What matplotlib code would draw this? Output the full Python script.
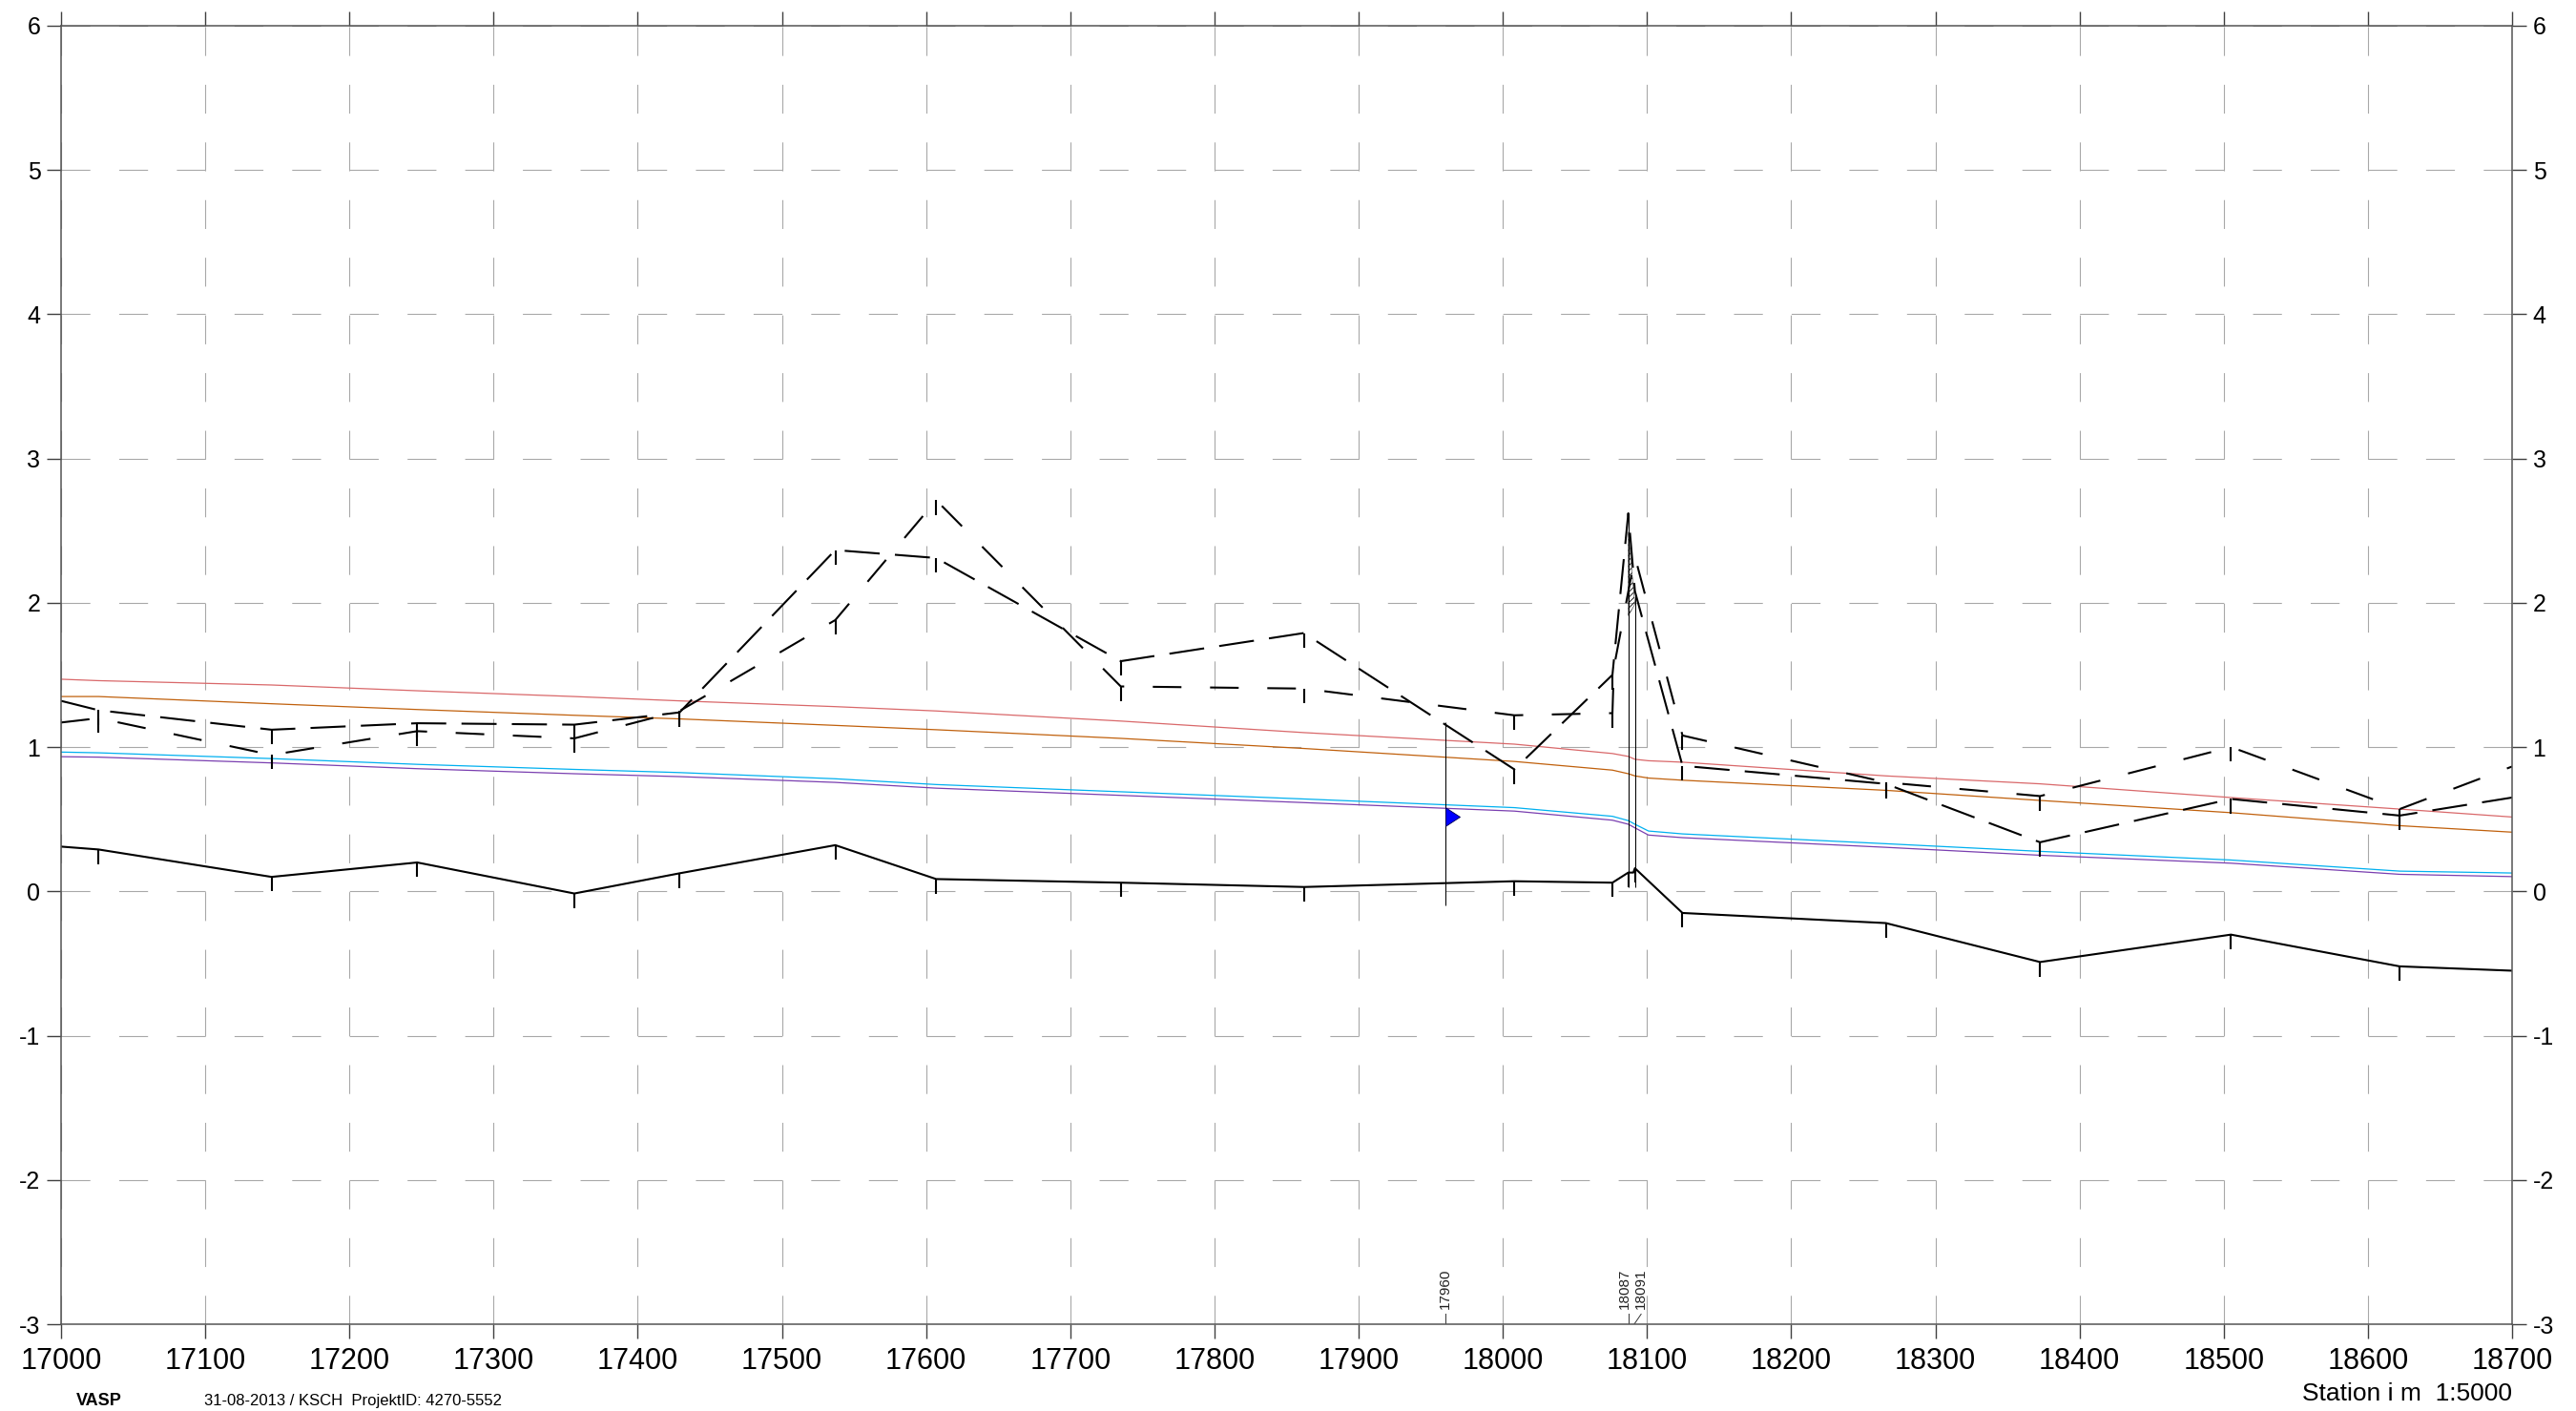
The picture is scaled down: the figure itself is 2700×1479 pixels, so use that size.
import numpy as np
import matplotlib
matplotlib.use("Agg")
import matplotlib.pyplot as plt
from matplotlib.path import Path

# cross sections (stations in m) where the profile lines get a small tick
sections = [17026, 17146, 17247, 17356, 17429, 17537, 17607, 17735, 17862,
            18008, 18076, 18124.6, 18265.6, 18372.6, 18505, 18622]
bridge = [18087, 18091.6]

# channel bottom
ground_x = [17000, 17026, 17146, 17247, 17356, 17429, 17537, 17607, 17735, 17862, 18008,
            18076, 18087, 18090.5, 18091.6, 18124.6, 18265.6, 18372.6, 18505, 18622, 18700]
ground_z = [0.31, 0.29, 0.10, 0.20, -0.015, 0.125, 0.32, 0.085, 0.06, 0.03, 0.07,
            0.06, 0.13, 0.13, 0.16, -0.15, -0.22, -0.49, -0.30, -0.52, -0.55]

# bank levels
bank1_x = [17000, 17026, 17146, 17247, 17356, 17429, 17537, 17607, 17735, 17862, 18008,
           18076, 18087, 18091.6, 18124.6, 18265.6, 18372.6, 18505, 18622, 18700]
bank1_z = [1.32, 1.255, 1.12, 1.165, 1.155, 1.24, 2.365, 2.31, 1.595, 1.79, 0.845,
           1.50, 2.62, 2.08, 0.87, 0.745, 0.34, 0.64, 0.525, 0.65]
bank2_x = [17000, 17026, 17146, 17247, 17356, 17429, 17537, 17607, 17735, 17862, 18008,
           18076, 18077, 18091.6, 18124.6, 18265.6, 18372.6, 18505, 18622, 18700]
bank2_z = [1.17, 1.20, 0.945, 1.11, 1.06, 1.25, 1.88, 2.71, 1.42, 1.405, 1.22,
           1.235, 1.55, 2.32, 1.08, 0.755, 0.66, 1.0, 0.57, 0.865]

# water levels
wl_x = [17000, 17026, 17146, 17247, 17356, 17429, 17537, 17607, 17735, 17862, 18008,
        18076, 18087, 18091.6, 18101, 18124.6, 18265.6, 18372.6, 18505, 18622, 18700]
wl_red = [1.47, 1.46, 1.43, 1.39, 1.35, 1.32, 1.28, 1.25, 1.18, 1.10, 1.02,
          0.955, 0.935, 0.915, 0.905, 0.895, 0.80, 0.745, 0.65, 0.57, 0.515]
wl_orange = [1.35, 1.35, 1.30, 1.26, 1.22, 1.195, 1.15, 1.12, 1.06, 0.99, 0.90,
             0.84, 0.815, 0.80, 0.785, 0.77, 0.70, 0.63, 0.545, 0.455, 0.41]
wl_cyan = [0.965, 0.96, 0.92, 0.88, 0.845, 0.823, 0.78, 0.74, 0.69, 0.64, 0.58,
           0.52, 0.49, 0.465, 0.418, 0.398, 0.33, 0.277, 0.217, 0.14, 0.127]
wl_purple = [0.933, 0.93, 0.89, 0.85, 0.815, 0.795, 0.755, 0.715, 0.665, 0.615, 0.556,
             0.493, 0.465, 0.44, 0.39, 0.372, 0.305, 0.25, 0.195, 0.118, 0.102]

# structures
struct_x = [17960, 18087, 18091.6]
struct_bottom = [-0.10, 0.03, 0.03]
struct_top = [1.175, 2.62, 2.06]
deck_x = [18087, 18091.6, 18087]
deck_z = [2.49, 1.99, 1.91]
gauge_x = 17960
gauge_z = 0.52

# station labels along the bottom
label_text = ["17960", "18087", "18091"]
label_station = [17960, 18087, 18091.1]
label_x = [17960, 18084.8, 18095.9]
leader_top_x = [17960, 18087, 18095.9]

xticks = list(range(17000, 18701, 100))
xtick_labels = [str(t) for t in xticks]
yticks = list(range(-3, 7))
ytick_labels = [str(t) for t in yticks]

narrow = ['Liberation Sans Narrow', 'Liberation Sans', 'DejaVu Sans']
plt.rcParams['lines.scale_dashes'] = False
plt.rcParams['font.family'] = ['Liberation Sans', 'DejaVu Sans']
plt.rcParams['hatch.linewidth'] = 0.6

fig = plt.figure(figsize=(27, 14.79), dpi=100)
ax = fig.add_axes([0.0237, 0.0615, 0.9515, 0.9204])
ax.set_xlim(17000, 18700)
ax.set_ylim(-3, 6)

# grid dashes: 5 pieces per 100 m cell
cell_pt = 0.9515 * 27 * 72 / 17
dash = cell_pt / 5
ax.grid(True, color='#a8a8a8', linewidth=0.8, linestyle=(0, (dash, dash)))
ax.set_axisbelow(True)

ax.set_xticks(xticks, labels=xtick_labels, fontsize=22, family=narrow)
ax.set_yticks(yticks, labels=ytick_labels, fontsize=18)
ax.tick_params(axis='both', direction='out', length=10.5, width=1, color='#404040')
ax.tick_params(axis='x', top=True, pad=7)
ax.tick_params(axis='y', left=True, right=True, labelleft=True, labelright=True, pad=5)
for s in ax.spines.values():
    s.set_color('#555555')
    s.set_linewidth(1.1)

# water levels
ax.plot(wl_x, wl_red, color='#d9686a', lw=0.9)
ax.plot(wl_x, wl_orange, color='#c0600c', lw=0.9)
ax.plot(wl_x, wl_cyan, color='#00b0f0', lw=0.9)
ax.plot(wl_x, wl_purple, color='#7a3fb0', lw=0.9)

# banks and bottom
ax.plot(bank1_x, bank1_z, color='black', lw=1.5, linestyle=(0, (26.5, 11.5)))
ax.plot(bank2_x, bank2_z, color='black', lw=1.5, linestyle=(0, (21.6, 21.6)))
ax.plot(ground_x, ground_z, color='black', lw=1.5)

tick_len = 0.1
for xs, zs, extra in [(bank1_x, bank1_z, []), (bank2_x, bank2_z, []),
                      (ground_x, ground_z, bridge)]:
    xs = np.array(xs)
    zs = np.array(zs)
    m = np.isin(xs, sections + extra)
    ax.vlines(xs[m], zs[m] - tick_len, zs[m], color='black', lw=1.5)

# structures
ax.vlines(struct_x, struct_bottom, struct_top, color='black', lw=0.75)
ax.fill(deck_x, deck_z, facecolor='none', edgecolor='black', hatch='//////', lw=0.3)
tri = Path([(0, -0.65), (1, 0), (0, 0.65), (0, -0.65)],
           [Path.MOVETO, Path.LINETO, Path.LINETO, Path.CLOSEPOLY])
ax.plot([gauge_x], [gauge_z], marker=tri, markersize=21.6, color='#0000ff',
        mec='#000050', mew=0.6, linestyle='none')

for t, s, lx, tx in zip(label_text, label_station, label_x, leader_top_x):
    ax.plot([s, tx], [-3, -2.93], color='#333333', lw=0.7)
    ax.text(lx, -2.893, t, rotation=90, ha='center', va='bottom', fontsize=11,
            color='#222222')

fig.text(0.0296, 0.0074, 'VASP', fontweight='bold', family=narrow, fontsize=13, va='center')
fig.text(0.0793, 0.0074, '31-08-2013 / KSCH  ProjektID: 4270-5552', family=narrow,
         fontsize=12, va='center')
fig.text(0.9752, 0.0122, 'Station i m  1:5000', ha='right', va='center', fontsize=19)

fig.savefig('out.png', dpi=100)
